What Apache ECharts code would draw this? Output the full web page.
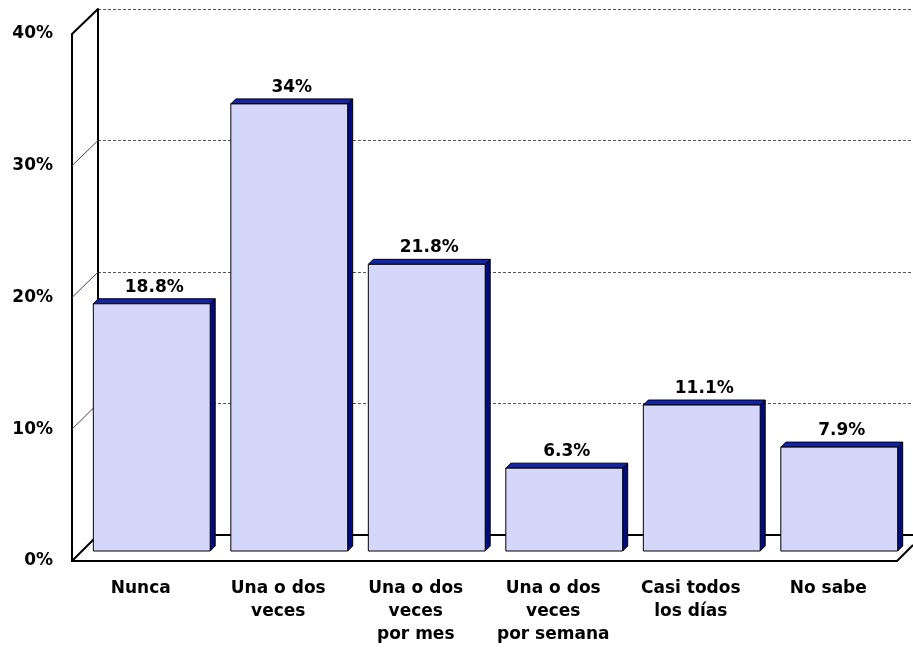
<!DOCTYPE html>
<html><head><meta charset="utf-8">
<script src="https://cdn.jsdelivr.net/npm/echarts@6/dist/echarts.min.js"></script>
<style>html,body{margin:0;padding:0;background:#fff}#c{width:913px;height:650px}</style>
</head><body><div id="c"></div>
<script>
const categories = ['Nunca', 'Una o dos\nveces', 'Una o dos\nveces\npor mes', 'Una o dos\nveces\npor semana', 'Casi todos\nlos días', 'No sabe'];
const values = [18.8, 34, 21.8, 6.3, 11.1, 7.9];
const valueLabels = ['18.8%', '34%', '21.8%', '6.3%', '11.1%', '7.9%'];
const yMax = 40;
const yInterval = 10;

const FONT = '"DejaVu Sans", Verdana, sans-serif';
const FRONT = '#d4d6fa', TOP = '#1424a8', SIDE = '#000c84';
const DEPTH = 5;

// layout (pixels)
const W = 913, H = 650;
const back = {left: 98, top: 9, right: 0, bottom: H - 535};
const front = {left: 72, top: 34, right: W - 897, bottom: H - 561};
const bars = {left: 83, top: 25, right: W - 908, bottom: H - 551};

const chart = echarts.init(document.getElementById('c'), null, {renderer: 'canvas'});

function diag(x1, y1, x2, y2, w, c) {
  return {type: 'line', shape: {x1, y1, x2, y2}, style: {stroke: c, lineWidth: w}, z: 1, silent: true};
}
const graphics = [];
const fY = k => (H - front.bottom) - k * ((H - front.bottom - front.top) / yMax);
const bY = k => (H - back.bottom) - k * ((H - back.bottom - back.top) / yMax);
for (let k = yInterval; k < yMax; k += yInterval) {
  graphics.push(diag(front.left, fY(k), back.left, bY(k), 1, '#444'));
}
graphics.push(diag(front.left, fY(yMax), back.left, bY(yMax), 2, '#000'));
graphics.push(diag(front.left, fY(0), back.left, bY(0), 2, '#000'));
graphics.push(diag(W - front.right, fY(0), W - front.right + 16, fY(0) - 16, 2, '#000'));

const option = {
  animation: false,
  backgroundColor: '#fff',
  grid: [
    Object.assign({containLabel: false, outerBoundsMode: 'none'}, back),
    Object.assign({containLabel: false, outerBoundsMode: 'none'}, front),
    Object.assign({containLabel: false, outerBoundsMode: 'none'}, bars)
  ],
  xAxis: [
    {gridIndex: 0, type: 'category', data: categories, axisLine: {show: true, lineStyle: {color: '#000', width: 2}},
      axisTick: {show: false}, axisLabel: {show: false}, splitLine: {show: false}, z: 2},
    {gridIndex: 1, type: 'category', data: categories, axisLine: {show: true, lineStyle: {color: '#000', width: 2}},
      axisTick: {show: false}, splitLine: {show: false},
      axisLabel: {show: true, interval: 0, margin: 16, color: '#000', fontFamily: FONT, fontWeight: 'bold', fontSize: 17, lineHeight: 23, align: 'center'}},
    {gridIndex: 2, type: 'category', data: categories, show: false}
  ],
  yAxis: [
    {gridIndex: 0, type: 'value', min: 0, max: yMax, interval: yInterval,
      axisLine: {show: true, lineStyle: {color: '#000', width: 2}}, axisTick: {show: false}, axisLabel: {show: false},
      splitLine: {show: true, lineStyle: {color: '#555', width: 1, type: [3, 2]}}},
    {gridIndex: 1, type: 'value', min: 0, max: yMax, interval: yInterval,
      axisLine: {show: true, lineStyle: {color: '#000', width: 2}}, axisTick: {show: false}, splitLine: {show: false},
      axisLabel: {show: true, margin: 19, color: '#000', fontFamily: FONT, fontWeight: 'bold', fontSize: 17, formatter: v => v + '%'}},
    {gridIndex: 2, type: 'value', min: 0, max: yMax, interval: yInterval, show: false}
  ],
  graphic: graphics,
  series: [{
    type: 'custom',
    xAxisIndex: 2, yAxisIndex: 2,
    z: 5,
    data: values.map((v, i) => [i, v]),
    renderItem(params, api) {
      const idx = api.value(0), v = api.value(1);
      const top = api.coord([idx, v]);
      const base = api.coord([idx, 0]);
      const bw = api.size([1, 0])[0] * 0.85;
      const x0 = top[0] - bw / 2, x1 = top[0] + bw / 2, yT = top[1], yB = base[1];
      const d = DEPTH;
      return {type: 'group', children: [
        {type: 'polygon', shape: {points: [[x1, yB], [x1, yT], [x1 + d, yT - d], [x1 + d, yB - d]]}, style: {fill: SIDE, stroke: '#000', lineWidth: 1}},
        {type: 'polygon', shape: {points: [[x0, yT], [x0 + d, yT - d], [x1 + d, yT - d], [x1, yT]]}, style: {fill: TOP, stroke: '#000', lineWidth: 1}},
        {type: 'rect', shape: {x: x0, y: yT, width: bw, height: yB - yT}, style: {fill: FRONT, stroke: '#000', lineWidth: 1}},
        {type: 'text', style: {text: valueLabels[idx], x: top[0] + d / 2, y: yT - d - 3, align: 'center', verticalAlign: 'bottom',
          font: 'bold 17px ' + FONT, fill: '#000'}}
      ]};
    }
  }]
};
chart.setOption(option);
</script>
</body></html>
